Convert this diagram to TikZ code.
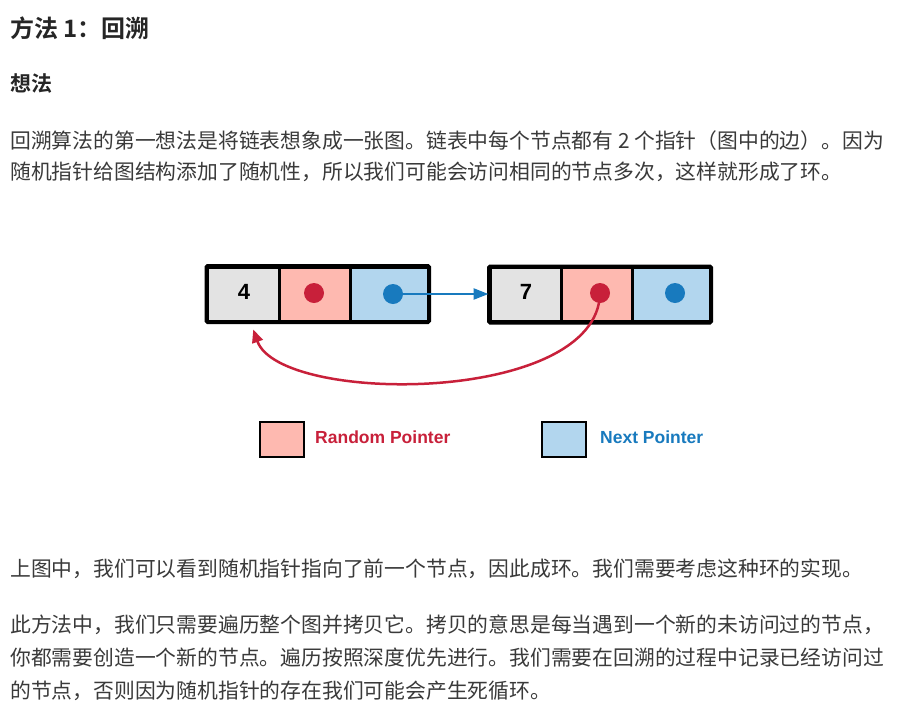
\documentclass[tikz,border=0pt]{standalone}
\usepackage{fontspec}
\setmainfont{Liberation Sans}
\newfontfamily\cjk{Noto Sans CJK SC}[BoldFont={Noto Sans CJK SC Bold}]
\newfontfamily\latb{Liberation Sans}
\usetikzlibrary{arrows.meta,calc}
\definecolor{txt}{HTML}{3A3A3A}
\definecolor{ttl}{HTML}{262626}
\definecolor{cgray}{HTML}{E3E3E3}
\definecolor{cpink}{HTML}{FEB9B0}
\definecolor{cblue}{HTML}{B2D6EE}
\definecolor{rdot}{HTML}{C8203A}
\definecolor{bdot}{HTML}{187ABE}
\begin{document}
\begin{tikzpicture}[x=1pt,y=-1pt,
  body/.style={anchor=west, inner sep=0pt, text=txt, font=\cjk\fontsize{20.8}{25}\selectfont},
  cell/.style={draw=black, line width=3pt, inner sep=0pt, minimum height=54pt},
  digit/.style={inner sep=0pt, font=\latb\bfseries\fontsize{22}{26}\selectfont},
  dot/.style={circle, inner sep=0pt, minimum size=20pt},
  legsq/.style={draw=black, line width=2.5pt, minimum width=44pt, minimum height=35pt, inner sep=0pt},
  legtxt/.style={anchor=west, inner sep=0pt, font=\latb\bfseries\fontsize{17.5}{20}\selectfont},
  nextarrow/.style={draw=bdot, line width=2.5pt, -{Triangle[length=15pt,width=11pt]}},
  randarrow/.style={draw=rdot, line width=2.5pt, -{Triangle[length=13pt,width=11pt]}}
]
\fill[white] (0,0) rectangle (899,718);
\useasboundingbox (0,0) rectangle (899,718);

% headings
\node[anchor=west, inner sep=0pt, text=ttl, font=\cjk\bfseries\fontsize{24}{28}\selectfont] (title) at (10,28) {方法 1：回溯};
\node[anchor=west, inner sep=0pt, text=ttl, font=\cjk\bfseries\fontsize{21}{25}\selectfont] (idea) at (10,84) {想法};

% first paragraph
\node[body] (p1) at (10,141) {回溯算法的第一想法是将链表想象成一张图。链表中每个节点都有 2 个指针（图中的边）。因为};
\node[body] (p2) at (10,172) {随机指针给图结构添加了随机性，所以我们可能会访问相同的节点多次，这样就形成了环。};

% node 4
\node[cell, fill=cgray, minimum width=71.5pt] (a1) at (243.25,294) {};
\node[cell, fill=cpink, minimum width=71pt] (a2) at (314.5,294) {};
\node[cell, fill=cblue, minimum width=78pt] (a3) at (389,294) {};
\draw[line width=3pt, rounded corners=1.5pt] (a1.north west) rectangle (a3.south east);
\node[digit] (d4) at (244,292) {4};
% node 7
\node[cell, fill=cgray, minimum width=71pt] (b1) at (525.5,294.5) {};
\node[cell, fill=cpink, minimum width=71pt] (b2) at (596.5,294.5) {};
\node[cell, fill=cblue, minimum width=78pt] (b3) at (671,294.5) {};
\draw[line width=3pt, rounded corners=1.5pt] (b1.north west) rectangle (b3.south east);
\node[digit] (d7) at (526,292) {7};

% dots
\node[dot, fill=rdot] (ar) at (314,293) {};
\node[dot, fill=bdot] (ab) at (393,294) {};
\node[dot, fill=rdot] (br) at (600,293) {};
\node[dot, fill=bdot] (bb) at (675,293) {};

% next pointer
\draw[nextarrow] (ab.center) -- (ab.center -| b1.west);
% random pointer
\coordinate (rtip) at ($(a1.south)+(10,7)$);
\draw[randarrow] (br.center) .. controls (598,405) and (280,405) .. (rtip);

% legend
\node[legsq, fill=cpink] (lr) at (282,439.5) {};
\node[legtxt, text=rdot] (lrt) at (315,437) {Random Pointer};
\node[legsq, fill=cblue] (lb) at (564,439.5) {};
\node[legtxt, text=bdot] (lbt) at (600,437) {Next Pointer};

% second part
\node[body] (p3) at (10,569) {上图中，我们可以看到随机指针指向了前一个节点，因此成环。我们需要考虑这种环的实现。};
\node[body] (p4) at (10,625) {此方法中，我们只需要遍历整个图并拷贝它。拷贝的意思是每当遇到一个新的未访问过的节点，};
\node[body] (p5) at (10,658) {你都需要创造一个新的节点。遍历按照深度优先进行。我们需要在回溯的过程中记录已经访问过};
\node[body] (p6) at (10,691) {的节点，否则因为随机指针的存在我们可能会产生死循环。};
\end{tikzpicture}
\end{document}
